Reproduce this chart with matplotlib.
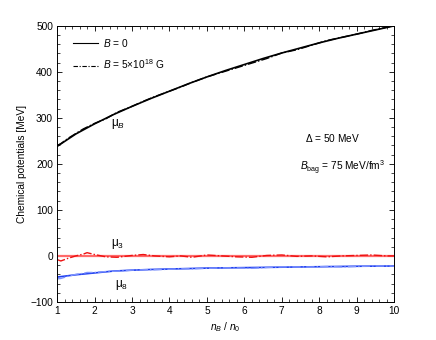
import matplotlib
matplotlib.use("Agg")
import matplotlib.pyplot as plt
import numpy as np

plt.rcParams['font.family'] = ['Liberation Sans', 'DejaVu Sans']
plt.rcParams['mathtext.fontset'] = 'custom'
plt.rcParams['mathtext.rm'] = 'Liberation Sans'
plt.rcParams['mathtext.it'] = 'Liberation Sans:italic'

# density ratio n_B/n_0
n = [1.0, 1.5, 2.0, 2.5, 3.0, 3.5, 4.0, 4.5, 5.0, 5.5, 6.0, 6.5, 7.0, 7.5, 8.0, 8.5, 9.0, 9.5, 10.0]
# B = 0
muB_0 = [238, 265, 287, 307, 325, 342, 358, 374, 389, 403, 416, 429, 441, 452, 463, 473, 482, 491, 500]
mu3_0 = [0] * len(n)
mu8_0 = [-46, -41, -37, -33, -31, -29.5, -28.5, -27.5, -26.5, -26, -25.5, -25, -24.5, -24, -23.5, -23, -22.5, -22.2, -22]

# B = 5e18 G (slightly oscillating)
nB = [1.0, 1.1, 1.3, 1.5, 1.7, 1.8, 2.0, 2.3, 2.6, 3.0, 3.3, 3.6, 4.0, 4.3, 4.6, 5.0, 5.4, 5.8, 6.2, 6.6, 7.0, 7.4, 7.8, 8.2, 8.6, 9.0, 9.4, 9.8, 10.0]
muB_B = [240, 244, 256, 266, 276, 280, 288, 298, 312, 325, 336, 346, 358, 367, 377, 389, 399, 409, 419, 429, 441, 448, 458, 468, 475, 482, 490, 497, 500]
mu3_B = [-8, -11, -5, 0, 4, 7, 3, -2, -3, 1, 3, 0, -2, 0, -3, 2, 0, -2, -3, 1, 2, -1, 0, -2, 0, 1, 2, 0, 0]
mu8_B = [-50, -49, -44, -40, -38, -36, -36, -34, -33, -31, -30, -30, -29, -28, -28, -27, -26, -26, -27, -25, -24, -24, -24, -23, -24, -23, -22, -22, -22]

fig = plt.figure(figsize=(4.36, 3.40), dpi=100)
ax = fig.add_axes([0.131, 0.112, 0.773, 0.812])

ax.plot(n, muB_0, color='black', lw=1.2, solid_capstyle='butt')
ax.plot(nB, muB_B, color='black', lw=1.0, ls='-.', dashes=(6, 1.5, 1, 1.5))
ax.plot(n, mu3_0, color='#ff6a6a', lw=1.6)
ax.plot(nB, mu3_B, color='#ee1111', lw=1.0, ls='-.', dashes=(6, 1.5, 1, 1.5))
ax.plot(n, mu8_0, color='#1f3ff0', lw=1.2)
ax.plot(nB, mu8_B, color='#7f95ff', lw=1.0, ls='-.', dashes=(6, 1.5, 1, 1.5))

# legend lines drawn as proxies
from matplotlib.lines import Line2D
h1 = Line2D([], [], color='black', lw=0.8)
h2 = Line2D([], [], color='black', lw=0.8, ls='-.', dashes=(4, 1.5, 1, 1.5))
leg = ax.legend([h1, h2], ['$B$ = 0', r'$B$ = 5$\times$10$^{18}$ G'], loc='upper left',
                frameon=False, fontsize=7.3, handlelength=2.4, labelspacing=0.85,
                borderaxespad=0.6, borderpad=0.5, handletextpad=0.5,
                bbox_to_anchor=(0.015, 1.0))

ax.text(2.45, 283, r'$\mathregular{\mu}_B$', fontsize=8.5)
ax.text(2.45, 22, r'$\mathregular{\mu}_3$', fontsize=8.5)
ax.text(2.55, -68, r'$\mathregular{\mu}_8$', fontsize=8.5)
ax.text(7.62, 248, r'$\Delta$ = 50 MeV', fontsize=7.3)
ax.text(7.48, 184, r'$B_{\mathrm{bag}}$ = 75 MeV/fm$^3$', fontsize=7.3)

ax.set_xlim(1, 10)
ax.set_ylim(-100, 500)
ax.set_xticks(range(1, 11))
ax.set_yticks(range(-100, 501, 100))
ax.set_xticks(np.arange(1, 10.01, 0.2), minor=True)
ax.set_yticks(np.arange(-100, 501, 20), minor=True)
ax.tick_params(which='both', direction='in', top=True, right=True, labelsize=7.3, pad=3)
ax.tick_params(which='major', length=3.5, width=0.6)
ax.tick_params(which='minor', length=2, width=0.5)
for s in ax.spines.values():
    s.set_linewidth(0.7)

ax.set_xlabel(r'$n_B$ / $n_0$', fontsize=7.3, labelpad=3)
ax.set_ylabel('Chemical potentials [MeV]', fontsize=7.3, labelpad=2)

fig.savefig('out.png', dpi=100)
